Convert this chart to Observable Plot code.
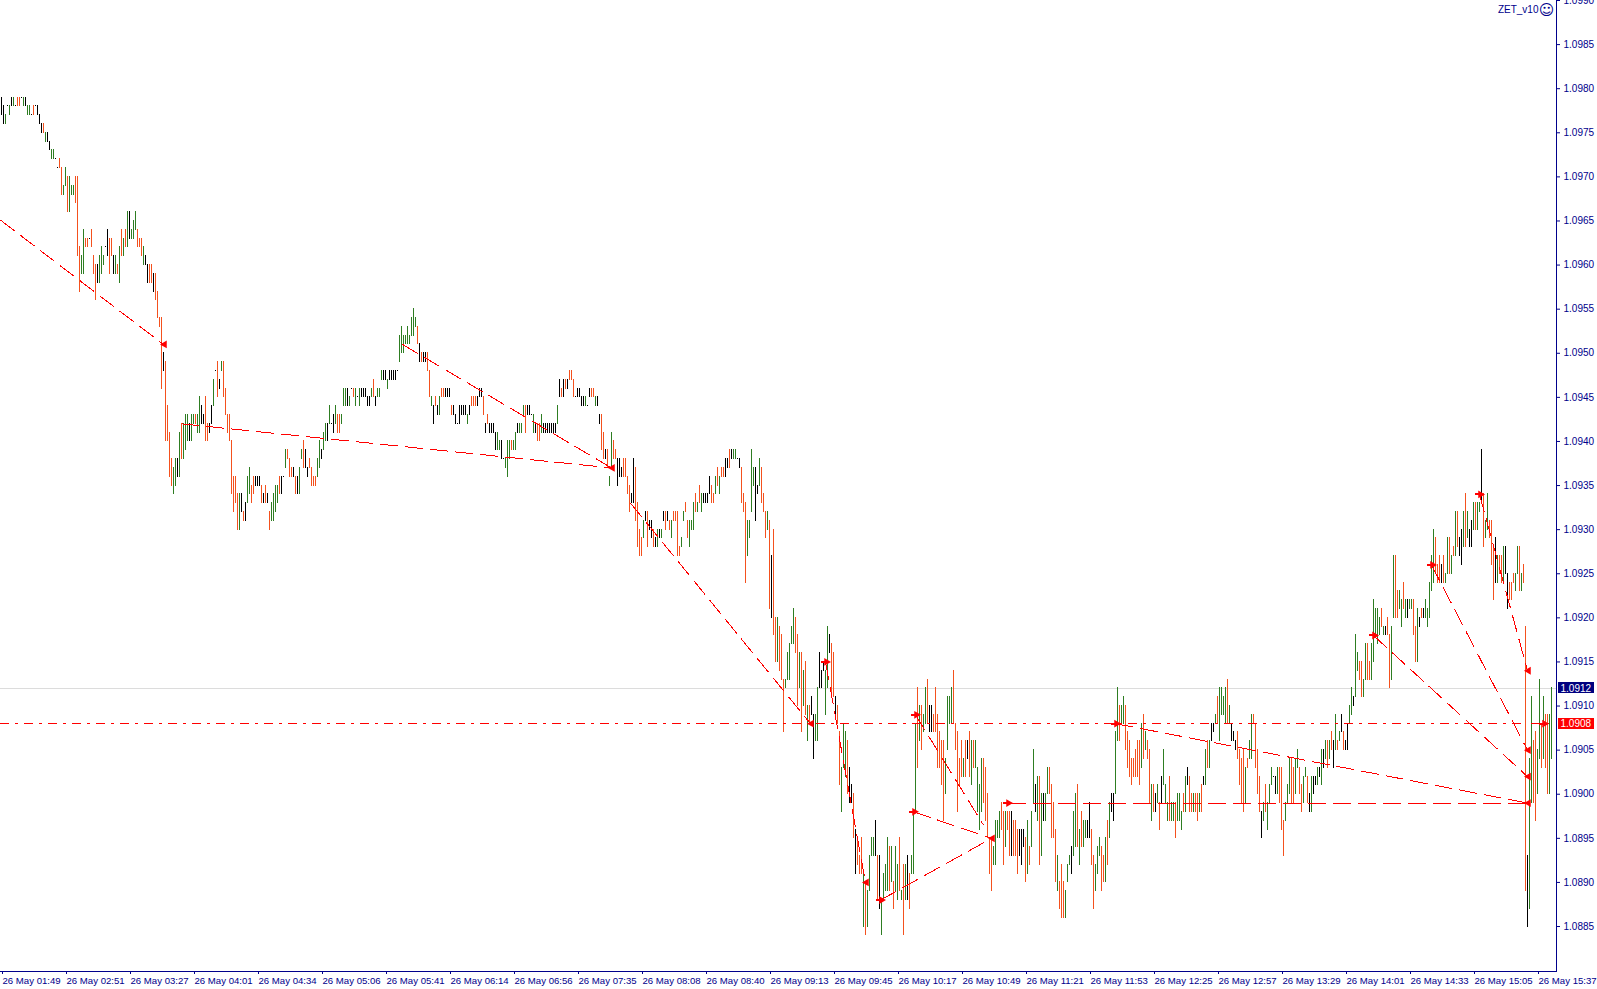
<!DOCTYPE html>
<html>
<head>
<meta charset="utf-8">
<style>
html,body{margin:0;padding:0;background:#fff;overflow:hidden}
svg{display:block}
</style>
<script src="https://cdn.jsdelivr.net/npm/d3@7"></script>
<script src="https://cdn.jsdelivr.net/npm/@observablehq/plot@0.6"></script>
</head>
<body>
<div id="chart"></div>
<script>
// price = 1.0880 + pips / 10000
const basePrice = 1.0880;
const barHigh = [
99,98,97,98,98,99,99,98,99,99, 99,99,99,98,98,97,98,98,98,97,
96,96,95,95,94,93,93,92,91,92, 91,89,91,90,90,89,89,90,90,82,
81,84,83,83,83,84,81,80,80,81, 82,81,82,84,83,83,81,81,80,82,
84,83,84,86,86,84,85,86,84,83, 83,82,81,80,80,80,79,79,77,74,
74,70,69,64,61,58,57,58,58,61, 62,62,63,63,62,63,63,63,63,65,
64,63,65,62,62,64,67,68,69,67, 69,69,66,63,63,60,56,56,54,54,
54,52,53,56,57,55,56,56,56,56, 55,54,55,54,52,53,54,55,55,56,
56,56,59,59,58,57,57,56,56,57, 59,60,59,57,58,57,56,56,58,60,
59,61,62,62,64,62,63,64,63,63, 63,66,66,66,65,66,66,66,65,66,
66,66,66,65,65,66,67,65,66,66, 68,68,68,67,68,68,68,68,68,72,
73,72,72,73,72,74,75,74,73,71, 70,70,70,70,68,65,64,65,64,65,
66,66,66,66,66,64,64,63,62,64, 64,64,64,63,64,65,65,65,65,66,
66,65,62,63,62,62,62,61,61,60, 60,58,58,60,60,60,60,61,62,62,
62,64,64,64,64,63,63,62,62,62, 63,62,62,62,62,62,62,62,64,67,
66,67,67,67,68,68,67,65,66,66, 65,65,65,64,66,66,66,65,65,63,
63,61,59,59,56,61,60,59,58,58, 57,58,58,56,55,54,58,57,53,50,
49,51,52,52,51,51,50,49,50,50, 50,52,52,52,51,51,52,52,52,48,
49,52,53,51,51,51,53,54,53,55, 54,54,54,54,56,55,54,56,57,56,
57,57,58,58,59,59,59,59,58,58, 57,54,53,51,51,59,57,57,55,58,
57,54,52,52,51,47,50,40,40,39, 38,33,33,36,37,39,41,40,38,36,
36,34,35,30,30,31,29,29,32,36, 34,35,34,39,38,37,36,31,30,27,
23,28,27,26,23,21,20,16,15,13, 15,11,10,9,13,15,15,17,13,13,
8,11,12,15,14,14,10,14,12,15, 9,12,12,13,11,13,18,28,32,30,
30,29,32,33,30,30,29,32,29,27, 26,26,24,31,31,32,34,28,27,24,
26,24,26,26,27,26,26,26,23,21, 24,24,23,20,15,15,14,17,17,18,
19,18,18,18,18,18,17,17,16,16, 16,16,15,17,14,18,25,21,22,22,
20,20,20,23,23,21,19,16,13,10, 12,10,9,12,13,14,18,20,21,16,
18,17,17,17,19,16,13,12,14,15, 14,13,15,17,19,20,20,27,32,30,
30,31,30,27,26,24,24,25,26,26, 28,29,27,26,25,21,21,20,21,19,
22,25,21,19,22,19,19,19,20,20, 18,20,22,23,22,20,20,20,20,20,
21,22,25,26,26,28,28,29,31,32, 32,31,32,33,30,28,27,26,27,25,
24,25,23,24,26,29,29,28,25,22, 18,19,21,19,21,23,22,22,23,23,
23,17,19,21,24,24,23,24,25,23, 21,22,23,22,20,22,22,22,23,23,
25,25,26,26,26,27,26,29,26,27, 29,27,26,28,30,32,31,38,36,35,
35,33,37,37,35,37,42,41,41,40, 41,39,39,40,38,39,47,47,43,43,
42,44,42,42,42,42,42,39,41,40, 41,41,42,41,44,47,50,49,46,47,
46,47,45,49,49,47,48,52,52,49, 50,52,54,52,50,51,53,53,53,53,
59,54,51,54,51,51,48,49,47,47, 47,48,48,45,44,44,45,45,48,48,
45,46,39,13,24,31,26,27,25,33, 28,31,29,29,29,32
];
const barLow = [
97,96,96,98,97,98,98,98,98,98, 99,98,98,97,97,97,97,98,97,96,
95,95,94,94,93,92,92,92,91,91, 88,88,89,86,86,88,88,87,81,77,
79,79,82,82,83,82,79,76,78,78, 79,80,82,81,79,81,79,79,79,78,
81,81,82,82,83,83,83,84,82,82, 81,80,80,78,78,78,77,76,74,73,
66,68,60,60,56,55,54,55,56,56, 58,58,59,60,60,60,62,62,61,61,
62,62,60,60,61,62,64,68,65,66, 68,65,63,61,60,54,52,53,50,50,
52,51,51,53,54,53,54,55,55,55, 53,53,53,53,50,51,51,52,53,54,
54,56,57,58,56,56,56,54,54,54, 58,57,57,56,57,55,55,55,56,57,
58,59,60,60,62,62,61,62,61,61, 62,64,64,64,64,66,65,64,65,64,
65,65,65,64,64,65,65,64,65,65, 67,67,67,66,67,67,67,67,68,69,
70,70,71,71,71,72,72,73,71,69, 69,69,69,68,65,64,62,64,63,63,
65,65,65,65,65,63,63,62,62,62, 63,63,63,62,63,64,64,64,64,65,
65,63,61,62,61,61,61,59,59,59, 58,58,57,56,58,59,59,59,61,61,
61,63,61,63,63,63,61,61,60,60, 61,61,61,61,61,61,61,61,62,65,
65,65,66,66,67,67,65,65,65,65, 64,64,64,64,65,65,65,64,64,62,
59,58,58,57,55,57,58,58,55,56, 56,56,56,54,52,53,53,51,48,47,
47,49,51,48,50,49,48,48,48,49, 49,51,50,51,50,49,51,51,47,47,
48,51,52,49,48,50,50,52,52,53, 52,53,53,53,54,53,53,54,55,54,
56,56,56,57,57,58,58,58,58,57, 53,52,44,47,49,52,55,51,54,55,
53,52,49,50,41,40,38,35,35,34, 33,27,32,33,33,37,37,36,30,32,
27,30,29,26,28,29,24,26,26,32, 32,34,29,32,36,31,31,29,28,21,
18,23,22,20,19,19,15,11,12,11, 11,5,4,5,9,13,13,13,8,7,
4,8,9,9,9,10,7,9,8,9, 8,4,8,8,7,11,11,18,23,26,
25,27,28,28,27,27,27,27,23,23, 21,17,20,25,28,28,28,25,18,21,
22,22,22,24,22,21,23,23,18,16, 18,19,17,15,11,9,12,12,15,15,
16,12,14,16,13,13,13,13,11,13, 12,14,10,11,12,14,19,18,17,12,
13,17,17,20,20,15,15,10,9,7, 6,6,6,10,12,11,13,14,14,12,
14,14,15,15,15,12,7,9,11,13, 9,10,10,12,15,18,17,20,26,26,
28,28,25,23,22,21,22,22,22,21, 23,24,25,24,19,17,18,18,19,16,
19,21,19,17,17,17,17,15,17,17, 16,18,18,21,18,18,18,18,17,18,
18,21,21,23,23,26,27,28,28,26, 29,29,28,28,28,26,26,25,24,21,
19,18,19,23,24,24,28,23,20,18, 15,17,18,16,19,21,22,20,20,19,
16,13,17,19,20,19,19,20,23,20, 18,19,22,19,18,18,20,21,21,22,
21,23,24,23,24,25,23,25,25,26, 27,25,25,25,28,29,30,31,34,33,
31,31,33,33,33,33,35,38,37,38, 39,38,38,38,32,33,40,40,40,41,
39,41,40,40,41,41,38,35,35,39, 40,40,40,39,40,43,44,45,44,44,
44,44,44,45,45,45,47,47,48,47, 46,48,48,49,48,48,50,50,50,52,
53,48,49,50,49,46,42,44,44,45, 44,44,45,41,42,42,44,43,45,43,
43,44,9,5,7,19,19,17,20,24, 23,24,23,20,20,24
];
const barKind = (
"kkgkgkgkoo"+"kgkggkokkk"+"kogkkggkko"+"oggogggooo"+"ggookoookg"+"ggkkookgog"+"ogogkgggoo"+"ogkkookooo"+
"okooooggkg"+"ogggkggogg"+"kkookkgkok"+"goooooooog"+"kokggookkk"+"okokoggggo"+"kkgoookokg"+"gokkoooogg"+
"kggkgkkgoo"+"gggkgkogkg"+"kkkkkgokgg"+"gkkgkkkkkg"+"ggggggggok"+"okkoogkokg"+"ookkkokkkk"+"kkkgkoookk"+
"kokokkkkgg"+"kkgggoggkg"+"ggokkkgkoo"+"gkkkkkkkgk"+"okokoookkk"+"kkgkkoogkk"+"ookoggookk"+"kooookkooo"+
"ogkokkokgk"+"gkokogoooo"+"ggoogggogo"+"gkkkkoogog"+"ookkokggkk"+"oooggggkkg"+"ooogokoogo"+"oogggggoog"+
"ogogokkggk"+"kkggkookoo"+"gggokkokoo"+"ogoggggkok"+"ggggogoggo"+"gogkogggog"+"oggokkoooo"+"ooggggoooo"+
"ogokogoggg"+"gooooogggg"+"oogookoook"+"kkogoggkgo"+"gkggoooogo"+"oogggkggog"+"oggkkooggg"+"oogogkkggo"+
"ggoooooooo"+"gogoogokgo"+"kgggoggogg"+"gogkoogoog"+"okgogkkgog"+"gggogkkkoo"+"oogoggoooo"+"kgogggkkgo"+
"oogggooggo"+"oggokgkkgk"+"gkgogokgog"+"kokkggkggo"+"oggooggggg"+"ogkooggoog"+"gogkggoogk"+"okgggggooo"+
"koggogogok"+"kgogkkgogg"+"koggoookgo"+"ogkkoooggo"+"gookggoogg"+"ogoogg"
).split("");
const kindColor = {k:"#000000", g:"#2e7d22", o:"#f4511e"};

const timeLabels = ["01:49","02:51","03:27","04:01","04:34","05:06","05:41","06:14","06:56","07:35","08:08","08:40","09:13","09:45","10:17","10:49","11:21","11:53","12:25","12:57","13:29","14:01","14:33","15:05","15:37"];
const timeBars = [1,33,65,97,129,161,193,225,257,289,321,353,385,417,449,481,513,545,577,609,641,673,705,737,769];
const priceTicks = [1.0885,1.0890,1.0895,1.0900,1.0905,1.0910,1.0915,1.0920,1.0925,1.0930,1.0935,1.0940,1.0945,1.0950,1.0955,1.0960,1.0965,1.0970,1.0975,1.0980,1.0985,1.0990];

const trendStartBar  = [-0.5,200.5,90,314.5,412,439.5,456,457,503,557,686,715,739];
const trendStartPrice= [1.09651,1.0951,1.0942,1.0933,1.0915,1.0888,1.0898,1.0909,1.0899,1.0908,1.0918,1.0926,1.0934];
const trendEndBar    = [81,305,305,404.5,432,495,495,491,763,763,763,763,763];
const trendEndPrice  = [1.0951,1.0937,1.0937,1.0908,1.0890,1.0895,1.0895,1.08965,1.0899,1.0899,1.0902,1.0905,1.0914];
const arrowOutBar    = [412,439.5,456,457,503,557,686,715,739,771];
const arrowOutPrice  = [1.0915,1.0888,1.0898,1.0909,1.0899,1.0908,1.0918,1.0926,1.0934,1.0908];
const arrowInBar     = [81,305,404.5,432,495,763,763,763,763];
const arrowInPrice   = [1.0951,1.0937,1.0908,1.0890,1.0895,1.0899,1.0902,1.0905,1.0914];
const bidPrice = 1.0912;
const stopPrice = 1.0908;

const bars = barHigh.map((h,i)=>({i,hi:basePrice+h/1e4,lo:basePrice+barLow[i]/1e4,color:kindColor[barKind[i]]}));
const trends = trendStartBar.map((b,i)=>({x1:b,y1:trendStartPrice[i],x2:trendEndBar[i],y2:trendEndPrice[i]}));
const out = arrowOutBar.map((b,i)=>({b,p:arrowOutPrice[i]}));
const inn = arrowInBar.map((b,i)=>({b,p:arrowInPrice[i]}));
const navy = "#00008b", red = "#ff0000";
const tags = [{p:bidPrice,fill:"#00007f"},{p:stopPrice,fill:red}];

const chart = Plot.plot({
  width:1597, height:989,
  marginLeft:0, marginRight:41, marginTop:0, marginBottom:18,
  style:{background:"#fff", fontFamily:"'Liberation Sans',sans-serif"},
  x:{domain:[-0.5,777.5], range:[0,1556], axis:null},
  y:{domain:[1.08799,1.09900], range:[971,0], axis:null},
  color:{type:"identity"},
  marks:[
    Plot.ruleY([bidPrice],{x1:-0.5,x2:777.5,stroke:"#dcdcdc",shapeRendering:"crispEdges"}),
    Plot.ruleX(bars,{x:"i",y1:"lo",y2:"hi",stroke:"color",strokeWidth:1,strokeLinecap:"square",shapeRendering:"crispEdges"}),
    Plot.ruleY([stopPrice],{x1:-0.5,x2:762,stroke:red,strokeDasharray:"9 6 3 6",shapeRendering:"crispEdges"}),
    Plot.ruleY([stopPrice],{x1:765,x2:774,stroke:red,shapeRendering:"crispEdges"}),
    Plot.link(trends,{x1:"x1",y1:"y1",x2:"x2",y2:"y2",stroke:red,strokeWidth:1,strokeDasharray:"18 7",shapeRendering:"crispEdges"}),
    Plot.link(out,{x1:d=>d.b-2.5,y1:"p",x2:"b",y2:"p",stroke:red,strokeWidth:2,shapeRendering:"crispEdges"}),
    Plot.dot(out,{x:"b",y:"p",symbol:"triangle",rotate:90,r:2.9,dx:1,fill:red,stroke:"none"}),
    Plot.dot(inn,{x:"b",y:"p",symbol:"triangle",rotate:-90,r:2.9,dx:1,fill:red,stroke:"none"}),
    Plot.frame({anchor:"right",stroke:navy}),
    Plot.frame({anchor:"bottom",stroke:navy}),
    Plot.axisY(priceTicks,{anchor:"right",tickSize:3,tickPadding:4,tickFormat:d3.format(".4f"),fontSize:10,color:navy,stroke:navy,fill:navy}),
    Plot.axisX(timeBars,{anchor:"bottom",tickSize:3,tickPadding:3,textAnchor:"start",dx:-1,fontSize:9.6,tickFormat:d=>"26 May "+timeLabels[timeBars.indexOf(d)],color:navy,stroke:navy,fill:navy}),
    Plot.rect(tags,{x1:778.5,x2:796.5,y1:d=>d.p-0.000062,y2:d=>d.p+0.000062,fill:"fill",shapeRendering:"crispEdges"}),
    Plot.text(tags,{x:779.5,y:"p",text:d=>d3.format(".4f")(d.p),fill:"#fff",textAnchor:"start",fontSize:10,fontWeight:400}),
    Plot.text(["ZET_v10"],{x:768.5,y:1.09889,text:d=>d,textAnchor:"end",fill:navy,fontSize:10}),
    Plot.text(["\u263A"],{x:772.5,y:1.09889,text:d=>d,fill:navy,fontSize:15,fontFamily:"'DejaVu Sans'"})
  ]
});
document.getElementById("chart").appendChild(chart);
</script>
</body>
</html>
